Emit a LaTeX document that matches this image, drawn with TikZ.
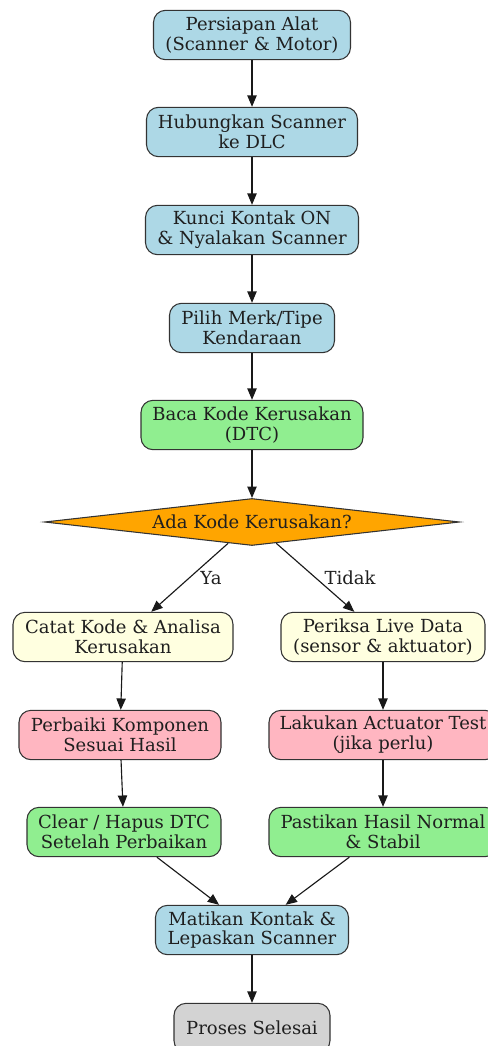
\documentclass[tikz,border=0pt]{standalone}
\usepackage{fontspec}
\setmainfont{DejaVu Serif}
\usetikzlibrary{arrows.meta,shapes.geometric}
\definecolor{cblue}{HTML}{ADD8E6}
\definecolor{cgreen}{HTML}{90EE90}
\definecolor{cyellow}{HTML}{FFFFE0}
\definecolor{cpink}{HTML}{FFB6C1}
\definecolor{corange}{HTML}{FFA500}
\definecolor{cgrey}{HTML}{D3D3D3}
\definecolor{cline}{HTML}{333333}
\begin{document}
\begin{tikzpicture}[x=0.75pt,y=-0.75pt,
  txt/.style={font=\fontsize{13.5}{14.8}\selectfont, text=black!88},
  box/.style={txt, draw=cline, line width=0.8pt, rounded corners=9pt, align=center,
    inner sep=0pt, minimum height=37pt},
  dec/.style={txt, draw=cline, line width=0.8pt, shape=diamond, aspect=8.8, inner sep=0pt,
    minimum width=311.25pt, minimum height=35.25pt, fill=corange},
  arr/.style={draw=black!90, line width=0.85pt, -{Triangle[length=8.5pt,width=7pt]}},
  lbl/.style={txt, inner sep=0pt}
]
\useasboundingbox (0,0) rectangle (488,1046);
\clip (0,0) rectangle (488,1046);

\node[box, fill=cblue, minimum width=147.75pt] (n1) at (252,35) {Persiapan Alat\\(Scanner \& Motor)};
\node[box, fill=cblue, minimum width=158.25pt] (n2) at (252,132) {Hubungkan Scanner\\ke DLC};
\node[box, fill=cblue, minimum width=159.75pt] (n3) at (252,230) {Kunci Kontak ON\\\& Nyalakan Scanner};
\node[box, fill=cblue, minimum width=123.75pt] (n4) at (252,328) {Pilih Merk/Tipe\\Kendaraan};
\node[box, fill=cgreen, minimum width=166.5pt] (n5) at (252,425) {Baca Kode Kerusakan\\(DTC)};
\node[dec] (d) at (252,522) {Ada Kode Kerusakan?};

\node[box, fill=cyellow, minimum width=165pt] (l1) at (123,637) {Catat Kode \& Analisa\\Kerusakan};
\node[box, fill=cyellow, minimum width=153pt] (r1) at (383,637) {Periksa Live Data\\(sensor \& aktuator)};
\node[box, fill=cpink, minimum width=151.5pt] (l2) at (120,735) {Perbaiki Komponen\\Sesuai Hasil};
\node[box, fill=cpink, minimum width=171pt] (r2) at (383,735) {Lakukan Actuator Test\\(jika perlu)};
\node[box, fill=cgreen, minimum width=145.5pt] (l3) at (124,832) {Clear / Hapus DTC\\Setelah Perbaikan};
\node[box, fill=cgreen, minimum width=171pt] (r3) at (383,832) {Pastikan Hasil Normal\\\& Stabil};
\node[box, fill=cblue, minimum width=144.75pt] (m) at (252,930) {Matikan Kontak \&\\Lepaskan Scanner};
\node[box, fill=cgrey, minimum width=117pt] (e) at (252,1028) {Proses Selesai};

\draw[arr] (n1) -- (n2);
\draw[arr] (n2) -- (n3);
\draw[arr] (n3) -- (n4);
\draw[arr] (n4) -- (n5);
\draw[arr] (n5) -- (d);
\draw[arr] (d) -- (l1);
\draw[arr] (d) -- (r1);
\draw[arr] (l1) -- (l2);
\draw[arr] (l2) -- (l3);
\draw[arr] (r1) -- (r2);
\draw[arr] (r2) -- (r3);
\draw[arr] (l3) -- (m);
\draw[arr] (r3) -- (m);
\draw[arr] (m) -- (e);

\node[lbl] (ya) at (211,578) {Ya};
\node[lbl] (tidak) at (350,578) {Tidak};
\end{tikzpicture}
\end{document}
